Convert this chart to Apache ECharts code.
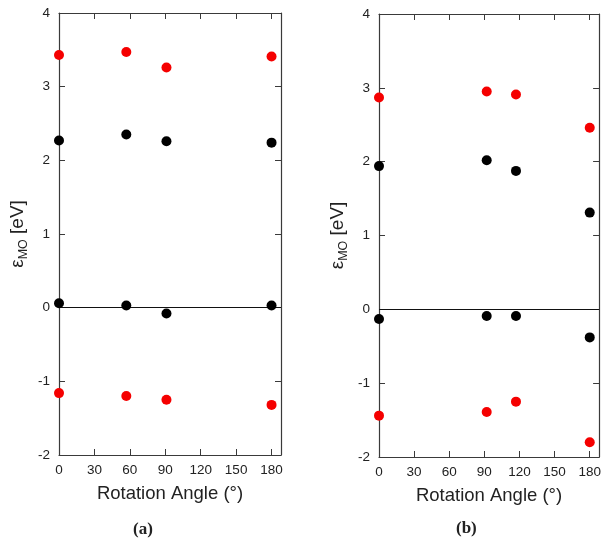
<!DOCTYPE html>
<html>
<head>
<meta charset="utf-8">
<script src="https://cdn.jsdelivr.net/npm/echarts@6/dist/echarts.min.js"></script>
<style>
  html, body { margin: 0; padding: 0; background: #fff; }
  #chart { width: 604px; height: 542px; }
</style>
</head>
<body>
<div id="chart"></div>
<script>
// Panel (a): rotation angles and orbital energies (eV)
const anglesA = [0, 57, 91, 180];
const redUpperA = [3.43, 3.47, 3.26, 3.41];
const blackUpperA = [2.27, 2.35, 2.26, 2.24];
const blackLowerA = [0.06, 0.03, -0.08, 0.03];
const redLowerA = [-1.16, -1.20, -1.25, -1.32];

// Panel (b)
const anglesB = [0, 92, 117, 180];
const redUpperB = [2.87, 2.95, 2.91, 2.46];
const blackUpperB = [1.94, 2.02, 1.875, 1.31];
const blackLowerB = [-0.13, -0.09, -0.09, -0.38];
const redLowerB = [-1.44, -1.39, -1.25, -1.80];

// Axis settings
const xMin = 0, xMax = 188, xStep = 30;
const yMin = -2, yMax = 4, yStep = 1;
const zeroLevel = 0;
const xTitle = 'Rotation Angle (°)';
const panelLabels = ['(a)', '(b)'];

const FONT = 'Liberation Sans, Arial, Helvetica, sans-serif';
const AXIS_COLOR = '#3a3a3a';
const RED = '#f50000';
const BLACK = '#000000';

function pairs(xs, ys) { return xs.map((x, i) => [x, ys[i]]); }

const grids = [
  { left: 59, top: 13, width: 222, height: 442 },
  { left: 379, top: 14, width: 222, height: 443 }
];

function mainX(gi) {
  return {
    type: 'value', gridIndex: gi, min: xMin, max: xMax, interval: xStep,
    position: 'bottom',
    axisLine: { show: true, onZero: false, lineStyle: { color: AXIS_COLOR, width: 1.2 } },
    axisTick: { show: true, inside: true, length: 6, lineStyle: { color: AXIS_COLOR } },
    axisLabel: { show: true, fontFamily: FONT, fontSize: 13.5, color: '#222', margin: 8, showMaxLabel: false },
    splitLine: { show: false },
    name: xTitle, nameLocation: 'middle', nameGap: 29,
    nameTextStyle: { fontFamily: FONT, fontSize: 18.5, color: '#222' }
  };
}
function topX(gi) {
  return {
    type: 'value', gridIndex: gi, min: xMin, max: xMax, interval: xStep,
    position: 'top',
    axisLine: { show: true, onZero: false, lineStyle: { color: AXIS_COLOR, width: 1.2 } },
    axisTick: { show: true, inside: true, length: 6, lineStyle: { color: AXIS_COLOR } },
    axisLabel: { show: false }, splitLine: { show: false }
  };
}
function mainY(gi) {
  return {
    type: 'value', gridIndex: gi, min: yMin, max: yMax, interval: yStep,
    position: 'left',
    axisLine: { show: true, onZero: false, lineStyle: { color: AXIS_COLOR, width: 1.2 } },
    axisTick: { show: true, inside: true, length: 6, lineStyle: { color: AXIS_COLOR } },
    axisLabel: { show: true, fontFamily: FONT, fontSize: 13.5, color: '#222', margin: 9 },
    splitLine: { show: false },
    name: '{e|ε}{s|MO}{u| [eV]}', nameLocation: 'middle', nameRotate: 90, nameGap: 29,
    nameTextStyle: {
      fontFamily: FONT, color: '#222',
      rich: {
        e: { fontFamily: FONT, fontSize: 19, color: '#222', lineHeight: 24, verticalAlign: 'middle' },
        s: { fontFamily: FONT, fontSize: 12.5, color: '#222', lineHeight: 24, verticalAlign: 'bottom' },
        u: { fontFamily: FONT, fontSize: 19, color: '#222', lineHeight: 24, verticalAlign: 'middle' }
      }
    }
  };
}
function rightY(gi) {
  return {
    type: 'value', gridIndex: gi, min: yMin, max: yMax, interval: yStep,
    position: 'right',
    axisLine: { show: true, onZero: false, lineStyle: { color: AXIS_COLOR, width: 1.2 } },
    axisTick: { show: true, inside: true, length: 6, lineStyle: { color: AXIS_COLOR } },
    axisLabel: { show: false }, splitLine: { show: false }
  };
}

function scatter(xi, yi, data, color, withZeroLine) {
  const s = {
    type: 'scatter', xAxisIndex: xi, yAxisIndex: yi, data: data,
    symbol: 'circle', symbolSize: 10, clip: false,
    itemStyle: { color: color, opacity: 1 }, z: 5, silent: true
  };
  if (withZeroLine) {
    s.markLine = {
      silent: true, symbol: ['none', 'none'], label: { show: false },
      lineStyle: { color: '#111', width: 1.2, type: 'solid' },
      data: [{ yAxis: zeroLevel }], animation: false
    };
  }
  return s;
}

const option = {
  animation: false,
  backgroundColor: '#ffffff',
  grid: grids,
  xAxis: [mainX(0), topX(0), mainX(1), topX(1)],
  yAxis: [mainY(0), rightY(0), mainY(1), rightY(1)],
  series: [
    scatter(0, 0, pairs(anglesA, blackUpperA).concat(pairs(anglesA, blackLowerA)), BLACK, true),
    scatter(0, 0, pairs(anglesA, redUpperA).concat(pairs(anglesA, redLowerA)), RED, false),
    scatter(2, 2, pairs(anglesB, blackUpperB).concat(pairs(anglesB, blackLowerB)), BLACK, true),
    scatter(2, 2, pairs(anglesB, redUpperB).concat(pairs(anglesB, redLowerB)), RED, false)
  ],
  graphic: [
    {
      type: 'text', left: 133, top: 521,
      style: { text: panelLabels[0], fontFamily: 'Liberation Serif, DejaVu Serif, serif', fontWeight: 'bold', fontSize: 17, fill: '#222' }
    },
    {
      type: 'text', left: 456, top: 520,
      style: { text: panelLabels[1], fontFamily: 'Liberation Serif, DejaVu Serif, serif', fontWeight: 'bold', fontSize: 17, fill: '#222' }
    }
  ]
};

const chart = echarts.init(document.getElementById('chart'), null, { renderer: 'canvas' });
chart.setOption(option);
</script>
</body>
</html>
